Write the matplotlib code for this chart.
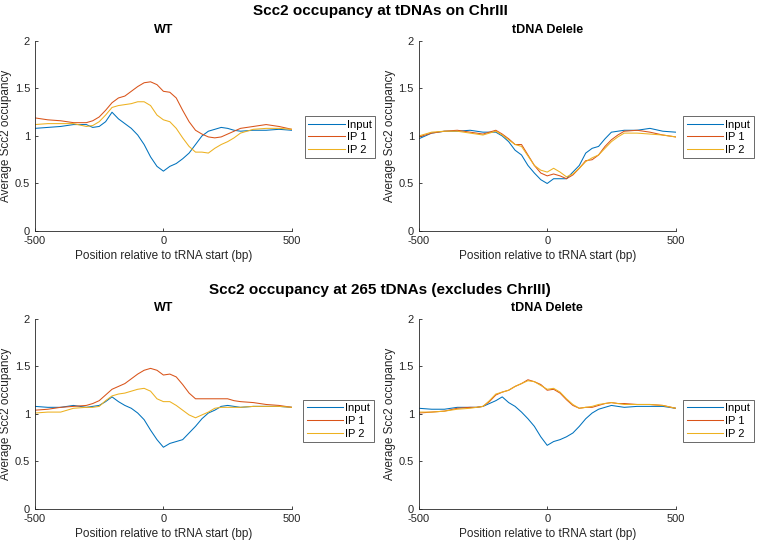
import matplotlib
matplotlib.use("Agg")
import matplotlib.pyplot as plt

plt.rcParams['font.family'] = ['Liberation Sans', 'DejaVu Sans']
plt.rcParams['axes.unicode_minus'] = False

# positions along the tDNA (bp)
pos = [-500, -450, -400, -350, -300, -275, -250, -225, -200, -175, -150, -125,
       -100, -75, -50, -25, 0, 25, 50, 75, 100, 125, 150, 175, 200, 225, 250,
       275, 300, 350, 400, 450, 500]

labels = ["Input", "IP 1", "IP 2"]

# ChrIII, WT
chr3_wt_input = [1.08, 1.09, 1.10, 1.12, 1.12, 1.09, 1.10, 1.15, 1.25, 1.18, 1.13, 1.08,
                 1.01, 0.91, 0.78, 0.68, 0.63, 0.68, 0.71, 0.76, 0.82, 0.91, 1.00, 1.05,
                 1.07, 1.09, 1.08, 1.06, 1.05, 1.06, 1.06, 1.07, 1.06]
chr3_wt_ip1 = [1.19, 1.17, 1.16, 1.14, 1.14, 1.16, 1.20, 1.27, 1.35, 1.40, 1.42, 1.47,
               1.52, 1.56, 1.57, 1.54, 1.47, 1.46, 1.40, 1.27, 1.15, 1.06, 1.02, 0.99,
               0.98, 0.99, 1.02, 1.05, 1.08, 1.10, 1.12, 1.10, 1.07]
chr3_wt_ip2 = [1.12, 1.13, 1.13, 1.13, 1.10, 1.11, 1.15, 1.22, 1.30, 1.32, 1.33, 1.34,
               1.36, 1.36, 1.32, 1.22, 1.17, 1.15, 1.08, 0.98, 0.89, 0.83, 0.83, 0.82,
               0.87, 0.91, 0.94, 0.98, 1.03, 1.07, 1.08, 1.08, 1.07]

# ChrIII, tDNA delete
chr3_del_input = [0.97, 1.03, 1.05, 1.05, 1.06, 1.05, 1.04, 1.04, 1.04, 1.00, 0.94, 0.85,
                  0.80, 0.69, 0.61, 0.54, 0.50, 0.55, 0.55, 0.55, 0.62, 0.69, 0.82, 0.87,
                  0.89, 0.97, 1.04, 1.05, 1.06, 1.06, 1.08, 1.05, 1.04]
chr3_del_ip1 = [0.99, 1.03, 1.05, 1.06, 1.04, 1.03, 1.02, 1.04, 1.06, 1.02, 0.97, 0.91,
                0.91, 0.80, 0.69, 0.61, 0.58, 0.60, 0.58, 0.55, 0.59, 0.66, 0.74, 0.75,
                0.80, 0.89, 0.96, 1.01, 1.05, 1.06, 1.04, 1.01, 0.99]
chr3_del_ip2 = [1.00, 1.04, 1.05, 1.05, 1.03, 1.02, 1.01, 1.03, 1.05, 1.01, 0.96, 0.91,
                0.89, 0.79, 0.69, 0.64, 0.62, 0.66, 0.62, 0.57, 0.60, 0.66, 0.73, 0.77,
                0.80, 0.87, 0.94, 0.99, 1.03, 1.03, 1.02, 1.01, 0.99]

# 265 tDNAs, WT
all_wt_input = [1.08, 1.07, 1.07, 1.09, 1.07, 1.08, 1.09, 1.13, 1.18, 1.13, 1.09, 1.06,
                1.01, 0.94, 0.83, 0.73, 0.65, 0.69, 0.71, 0.73, 0.80, 0.87, 0.95, 1.01,
                1.04, 1.08, 1.09, 1.08, 1.07, 1.08, 1.08, 1.08, 1.07]
all_wt_ip1 = [1.04, 1.05, 1.07, 1.08, 1.09, 1.11, 1.14, 1.20, 1.26, 1.29, 1.32, 1.37,
              1.42, 1.46, 1.48, 1.46, 1.41, 1.42, 1.39, 1.31, 1.22, 1.16, 1.16, 1.16,
              1.16, 1.16, 1.16, 1.14, 1.13, 1.12, 1.10, 1.09, 1.07]
all_wt_ip2 = [1.01, 1.02, 1.02, 1.06, 1.07, 1.07, 1.08, 1.14, 1.19, 1.21, 1.22, 1.24,
              1.26, 1.27, 1.24, 1.16, 1.13, 1.13, 1.09, 1.04, 0.99, 0.96, 0.99, 1.02,
              1.06, 1.07, 1.07, 1.07, 1.07, 1.08, 1.08, 1.08, 1.07]

# 265 tDNAs, tDNA delete
all_del_input = [1.06, 1.05, 1.05, 1.07, 1.07, 1.07, 1.08, 1.11, 1.14, 1.18, 1.12, 1.08,
                 1.02, 0.95, 0.87, 0.76, 0.67, 0.71, 0.73, 0.76, 0.80, 0.87, 0.95, 1.01,
                 1.05, 1.07, 1.09, 1.08, 1.07, 1.08, 1.08, 1.08, 1.06]
all_del_ip1 = [1.01, 1.02, 1.03, 1.06, 1.07, 1.07, 1.08, 1.13, 1.20, 1.23, 1.25, 1.29,
               1.32, 1.36, 1.34, 1.31, 1.25, 1.26, 1.22, 1.15, 1.09, 1.06, 1.07, 1.07,
               1.09, 1.11, 1.12, 1.11, 1.11, 1.10, 1.10, 1.09, 1.06]
all_del_ip2 = [1.02, 1.02, 1.03, 1.05, 1.06, 1.07, 1.08, 1.14, 1.21, 1.23, 1.25, 1.29,
               1.32, 1.35, 1.34, 1.30, 1.26, 1.27, 1.23, 1.16, 1.10, 1.06, 1.07, 1.08,
               1.10, 1.11, 1.12, 1.11, 1.10, 1.10, 1.10, 1.09, 1.06]

colors = ["#0072BD", "#D95319", "#EDB120"]
grey = "#262626"

fig = plt.figure(figsize=(7.6, 5.43), dpi=100)

panels = [
    ([0.046, 0.5746, 0.338, 0.35], "WT", [chr3_wt_input, chr3_wt_ip1, chr3_wt_ip2], (0.401, 0.786)),
    ([0.551, 0.5746, 0.338, 0.35], "tDNA Delele", [chr3_del_input, chr3_del_ip1, chr3_del_ip2], (0.899, 0.786)),
    ([0.046, 0.0626, 0.338, 0.35], "WT", [all_wt_input, all_wt_ip1, all_wt_ip2], (0.399, 0.264)),
    ([0.551, 0.0626, 0.338, 0.35], "tDNA Delete", [all_del_input, all_del_ip1, all_del_ip2], (0.899, 0.264)),
]

for rect, title, series, leg_xy in panels:
    ax = fig.add_axes(rect)
    for vals, c, lab in zip(series, colors, labels):
        ax.plot(pos, vals, color=c, lw=0.75, label=lab)
    ax.set_xlim(-500, 500)
    ax.set_ylim(0, 2)
    ax.set_xticks([-500, 0, 500])
    ax.set_yticks([0, 0.5, 1, 1.5, 2])
    ax.set_yticklabels(["0", "0.5", "1", "1.5", "2"])
    for s in ["top", "right"]:
        ax.spines[s].set_visible(False)
    for s in ["left", "bottom"]:
        ax.spines[s].set_color(grey)
        ax.spines[s].set_linewidth(0.6)
    ax.tick_params(direction="in", length=2.5, width=0.6, colors=grey,
                   labelsize=8, labelcolor=grey)
    ax.set_title(title, fontsize=9, fontweight="bold", color="black", pad=6)
    ax.set_xlabel("Position relative to tRNA start (bp)", fontsize=8.5, color=grey, labelpad=3)
    ax.set_ylabel("Average Scc2 occupancy", fontsize=8.5, color=grey, labelpad=2)
    leg = ax.legend(loc="upper left", bbox_to_anchor=leg_xy, bbox_transform=fig.transFigure,
                    fontsize=8, frameon=True, fancybox=False, handlelength=3.3,
                    handletextpad=0.2, borderpad=0.3, labelspacing=0.25,
                    borderaxespad=0)
    leg.get_frame().set_edgecolor("#262626")
    leg.get_frame().set_linewidth(0.6)

fig.text(0.5, 0.993, "Scc2 occupancy at tDNAs on ChrIII", ha="center", va="top",
         fontsize=11, fontweight="bold")
fig.text(0.5, 0.478, "Scc2 occupancy at 265 tDNAs (excludes ChrIII)", ha="center", va="top",
         fontsize=11, fontweight="bold")

fig.savefig("out.png", dpi=100)
